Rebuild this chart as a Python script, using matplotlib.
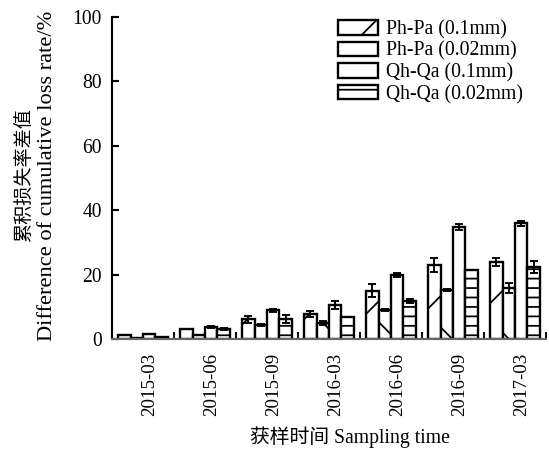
import matplotlib
matplotlib.use("Agg")
import matplotlib.pyplot as plt
import numpy as np

# ---- data ----
categories = ["2015-03", "2015-06", "2015-09", "2016-03", "2016-06", "2016-09", "2017-03"]
series_names = ["Ph-Pa (0.1mm)", "Ph-Pa (0.02mm)", "Qh-Qa (0.1mm)", "Qh-Qa (0.02mm)"]
ph_01 = [1.2, 3.0, 6.1, 7.7, 15.0, 23.0, 23.9]
ph_01_err = [0.0, 0.0, 1.0, 1.0, 2.0, 2.1, 1.2]
ph_002 = [0.4, 1.1, 4.3, 5.1, 9.0, 15.2, 15.9]
ph_002_err = [0.0, 0.0, 0.3, 0.6, 0.3, 0.3, 1.6]
qh_01 = [1.4, 3.8, 8.9, 10.5, 19.9, 34.7, 35.9]
qh_01_err = [0.0, 0.3, 0.5, 1.3, 0.5, 1.0, 0.8]
qh_002 = [0.5, 3.0, 6.1, 6.7, 11.8, 21.4, 22.3]
qh_002_err = [0.0, 0.3, 1.2, 0.0, 0.7, 0.0, 1.8]
yticks = [0, 20, 40, 60, 80, 100]

DPI = 170
plt.rcParams['font.family'] = ['Liberation Serif', 'Noto Sans CJK SC']
plt.rcParams['hatch.linewidth'] = 0.75
plt.rcParams['hatch.color'] = 'black'

fig = plt.figure(figsize=(549 / DPI, 451 / DPI), dpi=DPI)
ax = fig.add_axes([112 / 549, 1 - 339 / 451, 434 / 549, 322 / 451])

x = np.arange(len(categories))
w = 0.2
vals = [ph_01, ph_002, qh_01, qh_002]
errs = [ph_01_err, ph_002_err, qh_01_err, qh_002_err]
hatches = ['/', '\\', '', '---']
for k in range(4):
    ax.bar(x + (k - 1.5) * w, vals[k], width=w, color='white', edgecolor='black',
           linewidth=1.0, hatch=hatches[k], label=series_names[k],
           yerr=errs[k], error_kw=dict(ecolor='black', elinewidth=0.8, capsize=1.8, capthick=0.8))

ax.set_xlim(-0.5, 6.5)
ax.set_ylim(0, 100)
ax.set_yticks(yticks)
ax.set_xticks(x + 0.1)
ax.set_xticklabels(categories, rotation=90, fontsize=8.0)
ax.set_xticks(np.arange(0.5, 7, 1.0), minor=True)
ax.tick_params(axis='x', which='major', length=0, pad=6)
ax.tick_params(axis='x', which='minor', direction='in', length=3, width=0.8)
ax.tick_params(axis='y', direction='in', length=3, width=0.9, labelsize=8.3, pad=4.2)

ax.spines['top'].set_visible(False)
ax.spines['right'].set_visible(False)
ax.spines['left'].set_linewidth(0.9)
ax.spines['bottom'].set_linewidth(0.9)
ax.spines['bottom'].set_color('#666666')

leg = ax.legend(loc='upper left', bbox_to_anchor=(338 / 549, 1 - 20 / 451),
                bbox_transform=fig.transFigure, frameon=False, fontsize=8.4,
                borderpad=0, borderaxespad=0, handlelength=2.0, handleheight=0.75,
                handletextpad=0.4, labelspacing=0.12)

fig.text(24 / 549, 1 - 175 / 451, "累积损失率差值", rotation=90, ha='center', va='center', fontsize=8.1)
fig.text(48 / 549, 1 - 176 / 451, "Difference of cumulative loss rate/%", rotation=90,
         ha='center', va='center', fontsize=9.5)
fig.text(350 / 549, 1 - 437 / 451, "获样时间 Sampling time", ha='center', va='center', fontsize=8.4)

fig.savefig("out.png", dpi=DPI)
